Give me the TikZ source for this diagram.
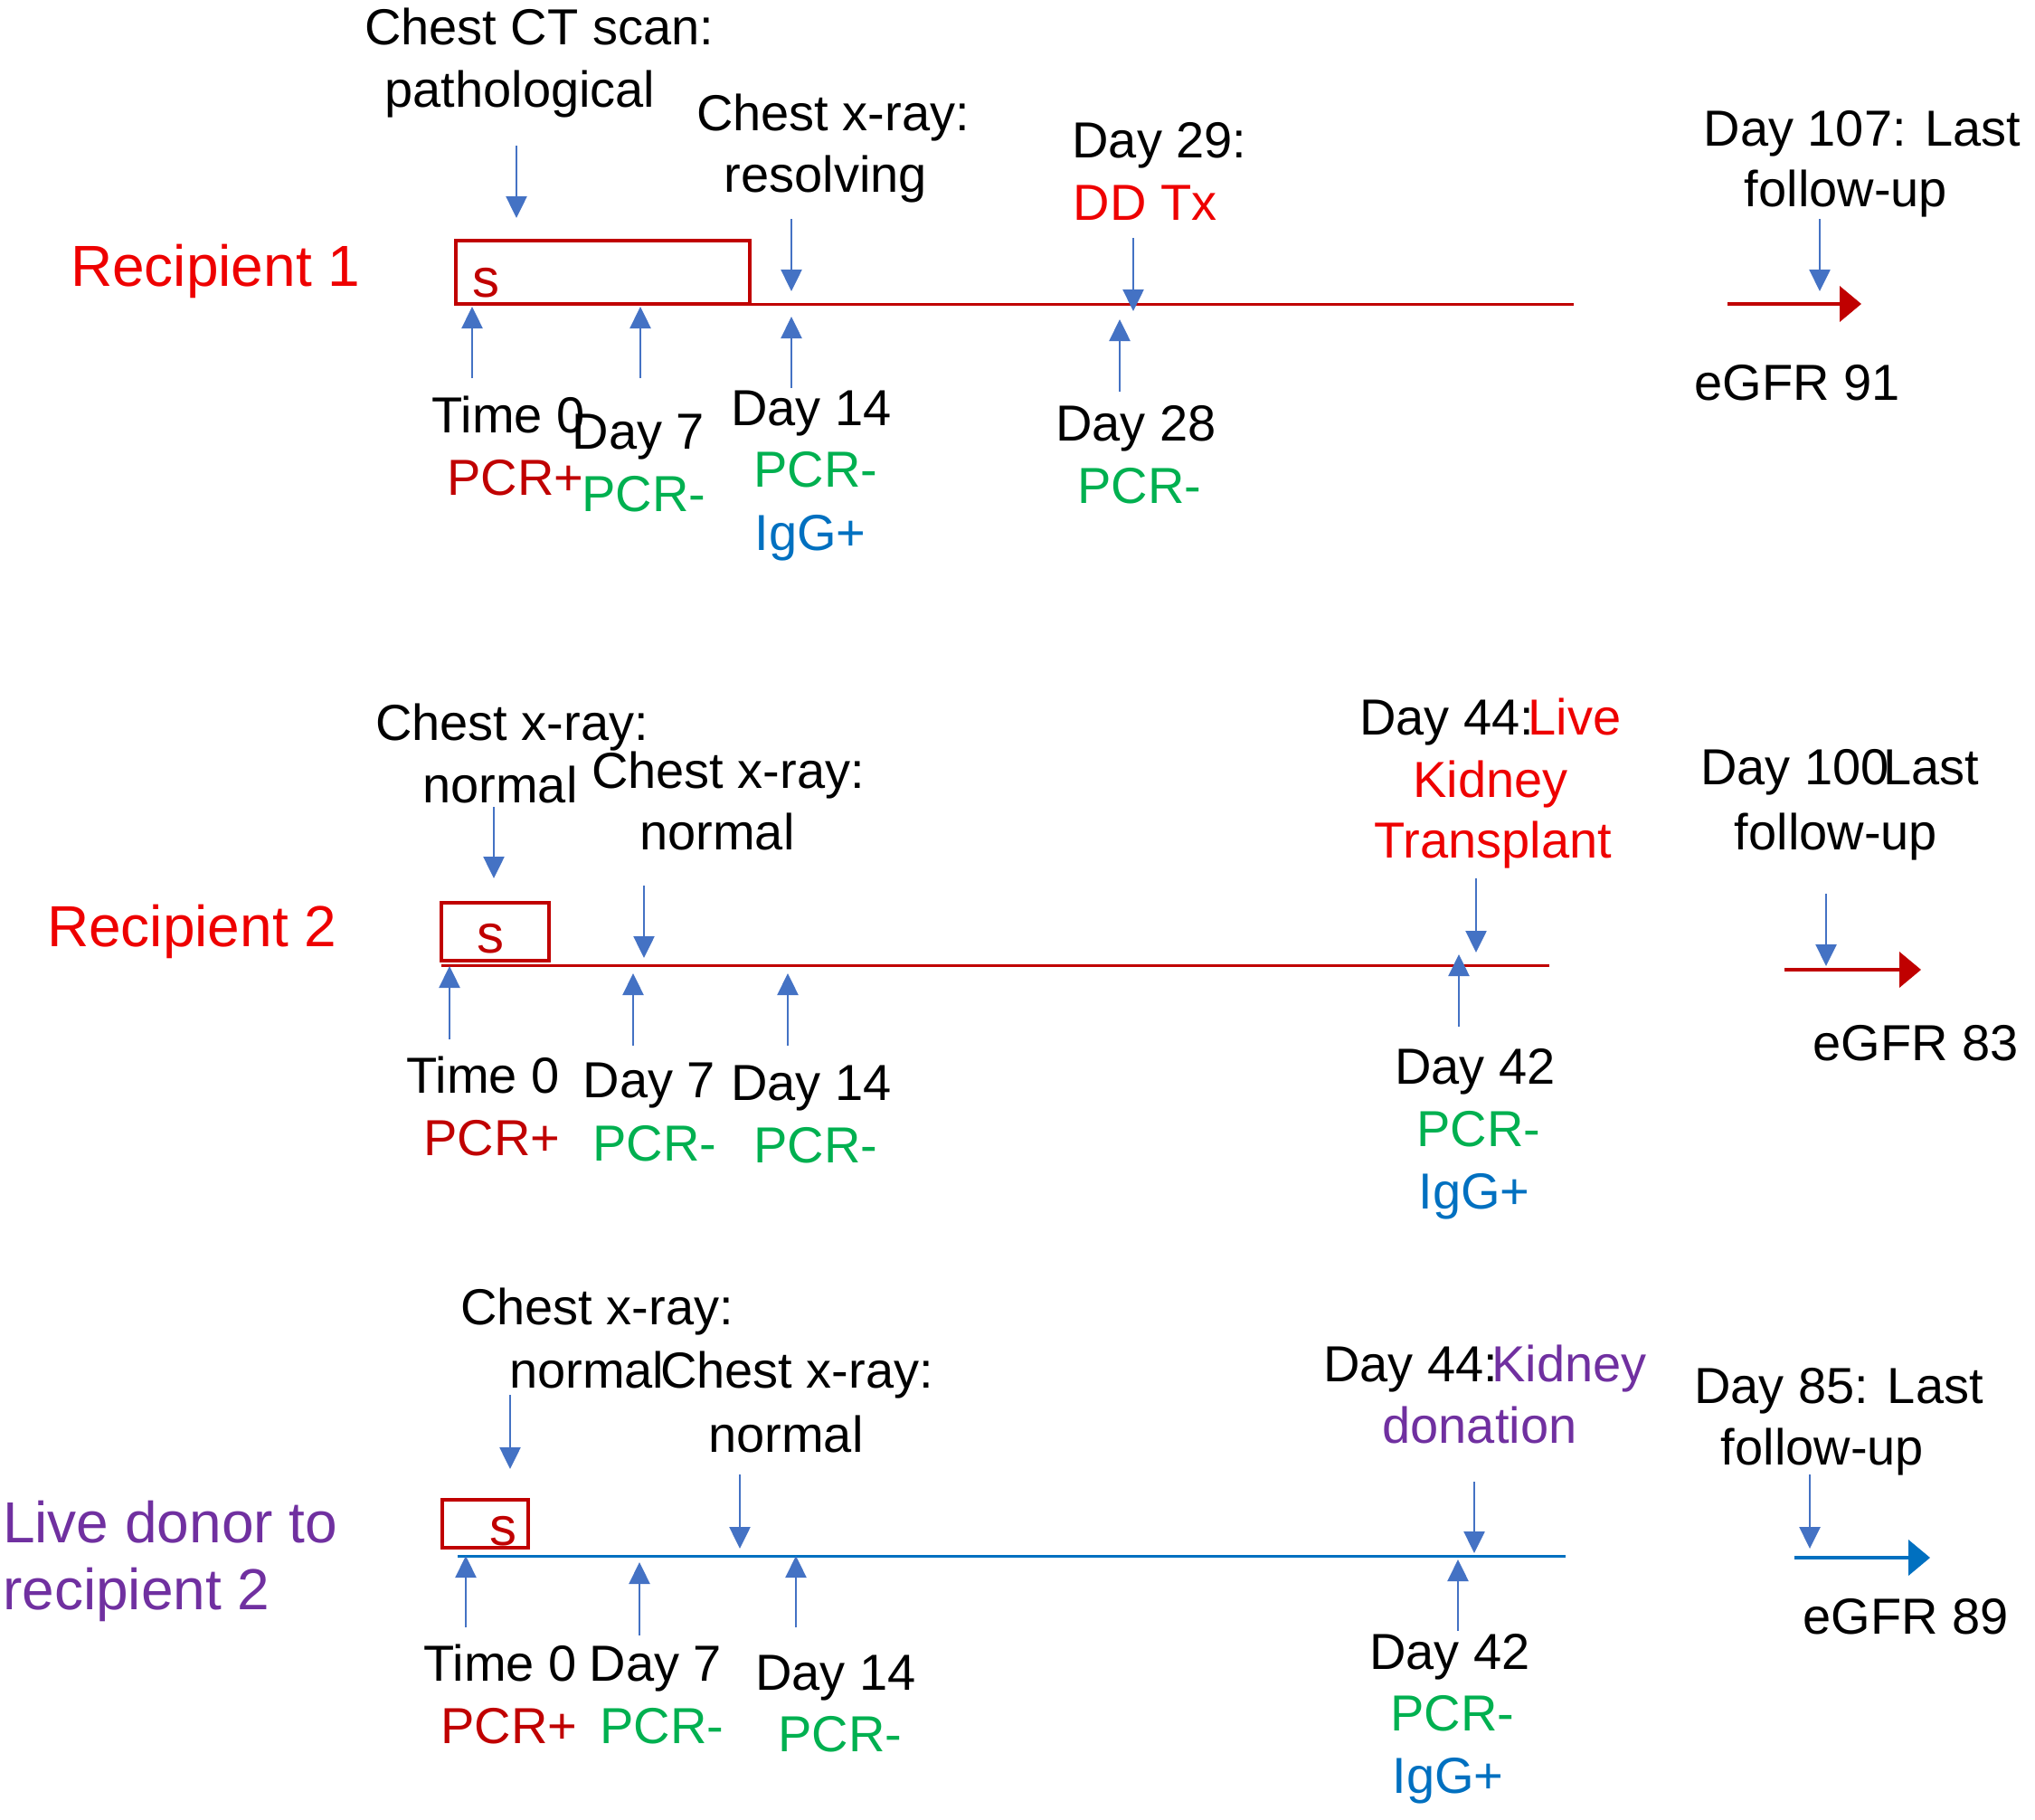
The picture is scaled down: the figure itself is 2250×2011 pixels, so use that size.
\documentclass[tikz,border=0pt]{standalone}
\usepackage{fontspec}
\setmainfont{Liberation Sans}
\usetikzlibrary{arrows.meta}
\definecolor{xred}{RGB}{238,0,0}
\definecolor{dred}{RGB}{192,0,0}
\definecolor{xgreen}{RGB}{0,176,80}
\definecolor{xblue}{RGB}{0,112,192}
\definecolor{arblue}{RGB}{68,114,196}
\definecolor{xpurple}{RGB}{112,48,160}
\newcommand\vArr[5]{\coordinate (#1s) at (#2,#3);\coordinate (#1e) at (#4,#5);\draw[bluearr] (#1s) -- (#1e);}
\begin{document}
\begin{tikzpicture}[x=1pt,y=-1pt,
  txt/.style={inner sep=0pt, anchor=base, font=\fontsize{56}{67}\selectfont},
  txtw/.style={txt, anchor=base west},
  lbl/.style={inner sep=0pt, anchor=base west, font=\fontsize{64}{77}\selectfont},
  sbox/.style={draw=dred, line width=4.5pt},
  stxt/.style={inner sep=0pt, anchor=base, font=\fontsize{60}{72}\selectfont, text=dred},
  bluearr/.style={draw=arblue, line width=2.5pt, -{Triangle[width=23pt,length=24pt]}},
  endarr/.style={line width=4pt, -{Triangle[width=39pt,length=24pt]}},
  tline/.style={line width=3pt}]
\useasboundingbox (0,0) rectangle (2250,2011);

% ---------------- Recipient 1 ----------------
\node[lbl, text=xred] (r1lab) at (78,316) {Recipient 1};
\node[txt] (r1ct1) at (596,49) {Chest CT scan:};
\node[txt] (r1ct2) at (575,118) {pathological};
\node[txt] (r1xr1) at (921,144) {Chest x-ray:};
\node[txt] (r1xr2) at (913,212) {resolving};
\node[txt] (r1d29a) at (1282,174) {Day 29:};
\node[txt, text=xred] (r1d29b) at (1266,243) {DD Tx};
\node[txt] (r1lf1) at (2059,161) {Day 107: Last};
\node[txt] (r1lf2) at (2041,228) {follow-up};
\node[txt] (r1t0) at (562,478) {Time 0};
\node[txt, text=dred] (r1t0p) at (570,547) {PCR+};
\node[txt] (r1d7) at (706,496) {Day 7};
\node[txt, text=xgreen] (r1d7p) at (712,565) {PCR-};
\node[txt] (r1d14) at (897,470) {Day 14};
\node[txt, text=xgreen] (r1d14p) at (902,538) {PCR-};
\node[txt, text=xblue] (r1d14g) at (896,608) {IgG+};
\node[txt] (r1d28) at (1256,487) {Day 28};
\node[txt, text=xgreen] (r1d28p) at (1260,556) {PCR-};
\node[txt] (r1egfr) at (1987,442) {eGFR 91};

\coordinate (r1ls) at (504,336);
\coordinate (r1le) at (1740,336);
\draw[tline, dred] (r1ls) -- (r1le);
\draw[sbox] (504,266) rectangle (829,336);
\node[stxt] (r1s) at (537,328) {s};
\coordinate (r1as) at (1910,336);
\coordinate (r1ae) at (2058,336);
\draw[endarr, dred] (r1as) -- (r1ae);

\vArr{r1a1}{571}{161}{571}{241}
\vArr{r1a2}{875}{242}{875}{322}
\vArr{r1a3}{1253}{263}{1253}{344}
\vArr{r1a4}{2012}{242}{2012}{322}
\vArr{r1u1}{522}{418}{522}{339}
\vArr{r1u2}{708}{418}{708}{339}
\vArr{r1u3}{875}{429}{875}{350}
\vArr{r1u4}{1238}{433}{1238}{353}

% ---------------- Recipient 2 ----------------
\node[lbl, text=xred] (r2lab) at (52,1046) {Recipient 2};
\node[txt] (r2xa1) at (566,818) {Chest x-ray:};
\node[txt] (r2xa2) at (553,887) {normal};
\node[txt] (r2xb1) at (805,871) {Chest x-ray:};
\node[txt] (r2xb2) at (793,939) {normal};
\node[txtw] (r2d44) at (1503,812) {Day 44:\kern-0.12em\textcolor{xred}{Live}};
\node[txt, text=xred] (r2kid) at (1648,881) {Kidney};
\node[txt, text=xred] (r2tx) at (1651,948) {Transplant};
\node[txtw] (r2lf1) at (1880,867) {Day 100\kern-0.12em Last};
\node[txt] (r2lf2) at (2030,939) {follow-up};
\node[txt] (r2t0) at (534,1208) {Time 0};
\node[txt, text=dred] (r2t0p) at (544,1277) {PCR+};
\node[txt] (r2d7) at (718,1213) {Day 7};
\node[txt, text=xgreen] (r2d7p) at (724,1283) {PCR-};
\node[txt] (r2d14) at (897,1216) {Day 14};
\node[txt, text=xgreen] (r2d14p) at (902,1285) {PCR-};
\node[txt] (r2d42) at (1631,1198) {Day 42};
\node[txt, text=xgreen] (r2d42p) at (1635,1267) {PCR-};
\node[txt, text=xblue] (r2d42g) at (1630,1336) {IgG+};
\node[txt] (r2egfr) at (2118,1172) {eGFR 83};

\coordinate (r2ls) at (488,1067);
\coordinate (r2le) at (1713,1067);
\draw[tline, dred] (r2ls) -- (r2le);
\draw[sbox] (488,998) rectangle (607,1062);
\node[stxt] (r2s) at (542,1053) {s};
\coordinate (r2as) at (1973,1072);
\coordinate (r2ae) at (2124,1072);
\draw[endarr, dred] (r2as) -- (r2ae);

\vArr{r2a1}{546}{892}{546}{971}
\vArr{r2a2}{712}{979}{712}{1059}
\vArr{r2a3}{1632}{971}{1632}{1053}
\vArr{r2a4}{2019}{988}{2019}{1068}
\vArr{r2u1}{497}{1149}{497}{1068}
\vArr{r2u2}{700}{1156}{700}{1076}
\vArr{r2u3}{871}{1156}{871}{1076}
\vArr{r2u4}{1613}{1135}{1613}{1055}

% ---------------- Live donor ----------------
\node[lbl, text=xpurple] (r3lab1) at (3,1705) {Live donor to};
\node[lbl, text=xpurple] (r3lab2) at (3,1779) {recipient 2};
\node[txt] (r3xa1) at (660,1464) {Chest x-ray:};
\node[txtw] (r3xa2) at (563,1534) {normal};
\node[txtw] (r3xb1) at (730,1534) {Chest x-ray:};
\node[txt] (r3xb2) at (869,1605) {normal};
\node[txtw] (r3d44) at (1463,1527) {Day 44:\kern-0.12em\textcolor{xpurple}{Kidney}};
\node[txt, text=xpurple] (r3don) at (1636,1595) {donation};
\node[txt] (r3lf1) at (2033,1551) {Day 85: Last};
\node[txt] (r3lf2) at (2015,1619) {follow-up};
\node[txt] (r3t0) at (553,1858) {Time 0};
\node[txt, text=dred] (r3t0p) at (563,1927) {PCR+};
\node[txt] (r3d7) at (725,1858) {Day 7};
\node[txt, text=xgreen] (r3d7p) at (732,1927) {PCR-};
\node[txt] (r3d14) at (924,1868) {Day 14};
\node[txt, text=xgreen] (r3d14p) at (929,1936) {PCR-};
\node[txt] (r3d42) at (1603,1845) {Day 42};
\node[txt, text=xgreen] (r3d42p) at (1606,1913) {PCR-};
\node[txt, text=xblue] (r3d42g) at (1601,1982) {IgG+};
\node[txt] (r3egfr) at (2107,1806) {eGFR 89};

\coordinate (r3ls) at (506,1720);
\coordinate (r3le) at (1731,1720);
\draw[tline, xblue] (r3ls) -- (r3le);
\draw[sbox] (489,1658) rectangle (584,1711);
\node[stxt] (r3s) at (556,1708) {s};
\coordinate (r3as) at (1984,1722);
\coordinate (r3ae) at (2134,1722);
\draw[endarr, xblue] (r3as) -- (r3ae);

\vArr{r3a1}{564}{1542}{564}{1624}
\vArr{r3a2}{818}{1630}{818}{1712}
\vArr{r3a3}{1630}{1638}{1630}{1717}
\vArr{r3a4}{2001}{1630}{2001}{1712}
\vArr{r3u1}{515}{1799}{515}{1720}
\vArr{r3u2}{707}{1808}{707}{1727}
\vArr{r3u3}{880}{1799}{880}{1720}
\vArr{r3u4}{1612}{1803}{1612}{1724}
\end{tikzpicture}
\end{document}
